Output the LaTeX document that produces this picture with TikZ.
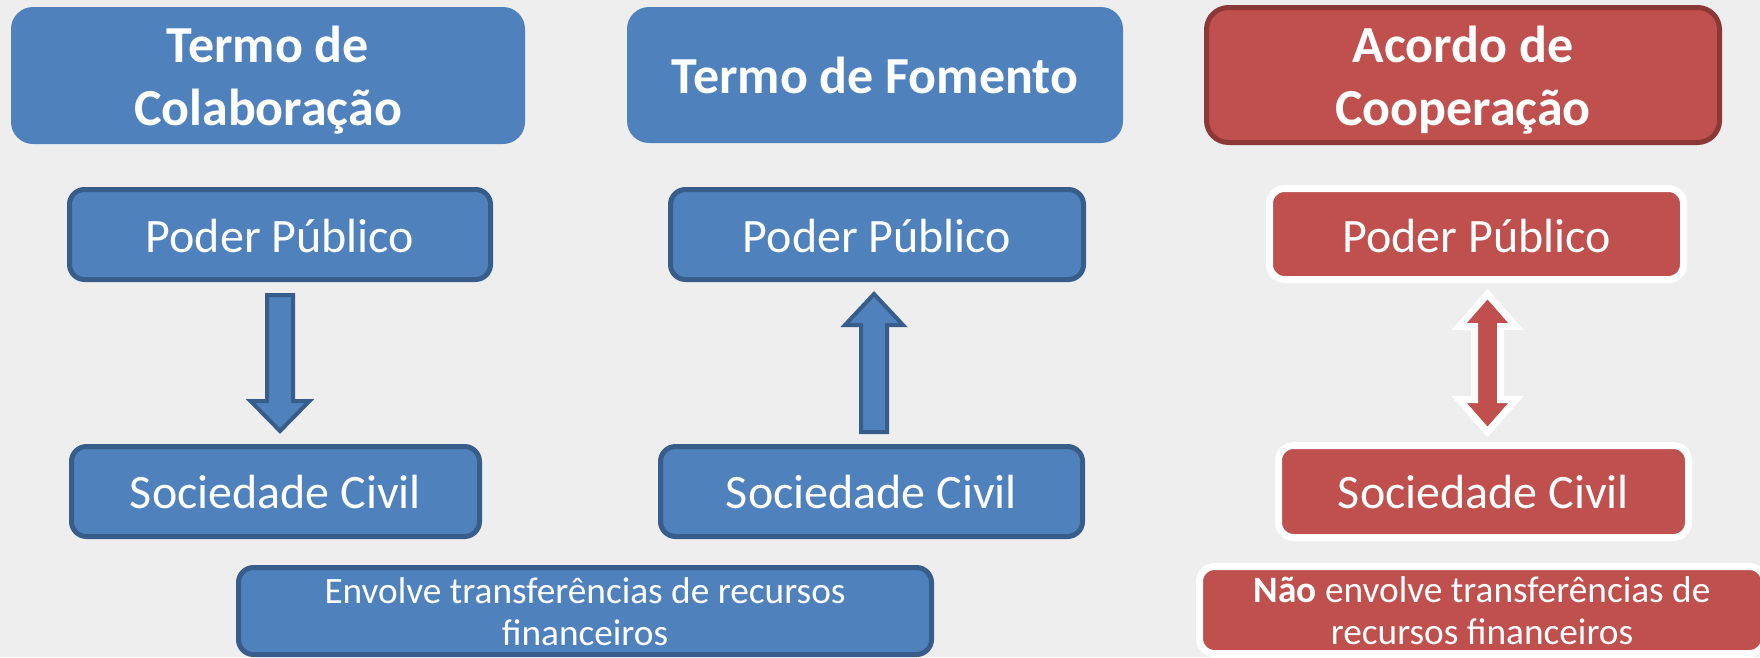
\documentclass[tikz,border=0pt]{standalone}
\usepackage{fontspec}
\setmainfont{Carlito}
\usetikzlibrary{calc}
\definecolor{bg}{HTML}{EEEEEE}
\definecolor{bluefill}{HTML}{4F81BD}
\definecolor{blueline}{HTML}{385D8A}
\definecolor{redfill}{HTML}{C0504D}
\definecolor{redline}{HTML}{8C3836}
\begin{document}
\begin{tikzpicture}[x=1pt,y=-1pt,
  titlebox/.style={rounded corners=22pt, inner sep=0pt, align=center, text=white,
    font=\fontsize{52}{63}\selectfont\bfseries},
  bluetitle/.style={titlebox, fill=bluefill},
  redtitle/.style={titlebox, fill=redfill, draw=redline, line width=5pt},
  partybox/.style={rounded corners=15pt, inner sep=0pt, text=white,
    font=\fontsize{48}{57}\selectfont, text depth=0pt},
  blueparty/.style={partybox, fill=bluefill, draw=blueline, line width=5pt},
  redparty/.style={partybox, fill=redfill, draw=white, line width=7pt},
  notebox/.style={rounded corners=15pt, inner sep=0pt, align=center, text=white,
    font=\fontsize{37.3}{42}\selectfont, text depth=0pt},
  bluenote/.style={notebox, fill=bluefill, draw=blueline, line width=5pt},
  rednote/.style={notebox, fill=redfill, draw=white, line width=7pt},
  bluearrow/.style={fill=bluefill, draw=blueline, line width=4pt, line join=miter},
  redarrow/.style={fill=redfill, draw=white, line width=7pt, line join=miter},
]
\useasboundingbox (0,0) rectangle (1760,657);
\fill[bg] (0,0) rectangle (1760,657);
\clip (0,0) rectangle (1760,657);

% titles
\node[bluetitle, minimum width=514pt, minimum height=137pt, text height=99pt, text depth=0pt] (t1) at (268,75.5) {Termo de\\Colaboração};
\node[bluetitle, minimum width=496pt, minimum height=136pt, text height=36pt, text depth=0pt] (t2) at (875,75) {Termo de Fomento};
\node[redtitle, minimum width=513pt, minimum height=135pt, text height=100pt, text depth=0pt] (t3) at (1463,75) {Acordo de\\Cooperação};

% parties
\node[blueparty, minimum width=421pt, minimum height=90pt, text height=35pt] (pp1) at (280,234.5) {Poder Público};
\node[blueparty, minimum width=413pt, minimum height=90pt, text height=35pt] (pp2) at (877,234.5) {Poder Público};
\node[redparty, minimum width=414pt, minimum height=91pt, text height=36pt] (pp3) at (1476.5,234) {Poder Público};

\node[blueparty, minimum width=408pt, minimum height=90pt, text height=33pt] (sc1) at (275.5,491.5) {Sociedade Civil};
\node[blueparty, minimum width=422pt, minimum height=90pt, text height=33pt] (sc2) at (871.5,491.5) {Sociedade Civil};
\node[redparty, minimum width=410pt, minimum height=92pt, text height=33pt] (sc3) at (1483.5,491.5) {Sociedade Civil};

% notes
\node[bluenote, minimum width=693pt, minimum height=87pt, text height=68pt] (n1) at (585,611) {Envolve transferências de recursos\\financeiros};
\node[rednote, minimum width=565pt, minimum height=87pt, text height=68pt] (n3) at (1482,610) {\textbf{Não} envolve transferências de\\recursos financeiros};

% arrows
\coordinate (a1top) at (280,295);
\coordinate (a1tip) at (280,431);
\draw[bluearrow] ($(a1top)+(-13,0)$) -- ($(a1top)+(13,0)$) -- ++(0,106) -- ++(16.5,0) -- (a1tip) -- ++(-29.5,-30) -- ++(16.5,0) -- cycle;

\coordinate (a2bot) at (874,432);
\coordinate (a2tip) at (874,294);
\draw[bluearrow] ($(a2bot)+(-13,0)$) -- ($(a2bot)+(13,0)$) -- ++(0,-107) -- ++(16,0) -- (a2tip) -- ++(-29,31) -- ++(16,0) -- cycle;

\coordinate (a3top) at (1487.5,294);
\coordinate (a3bot) at (1487.5,432);
\draw[redarrow] (a3top) -- ++(28.5,32.5) -- ++(-15.5,0) -- ++(0,73) -- ++(15.5,0) -- (a3bot) -- ++(-28.5,-32.5) -- ++(15.5,0) -- ++(0,-73) -- ++(-15.5,0) -- cycle;
\end{tikzpicture}
\end{document}
